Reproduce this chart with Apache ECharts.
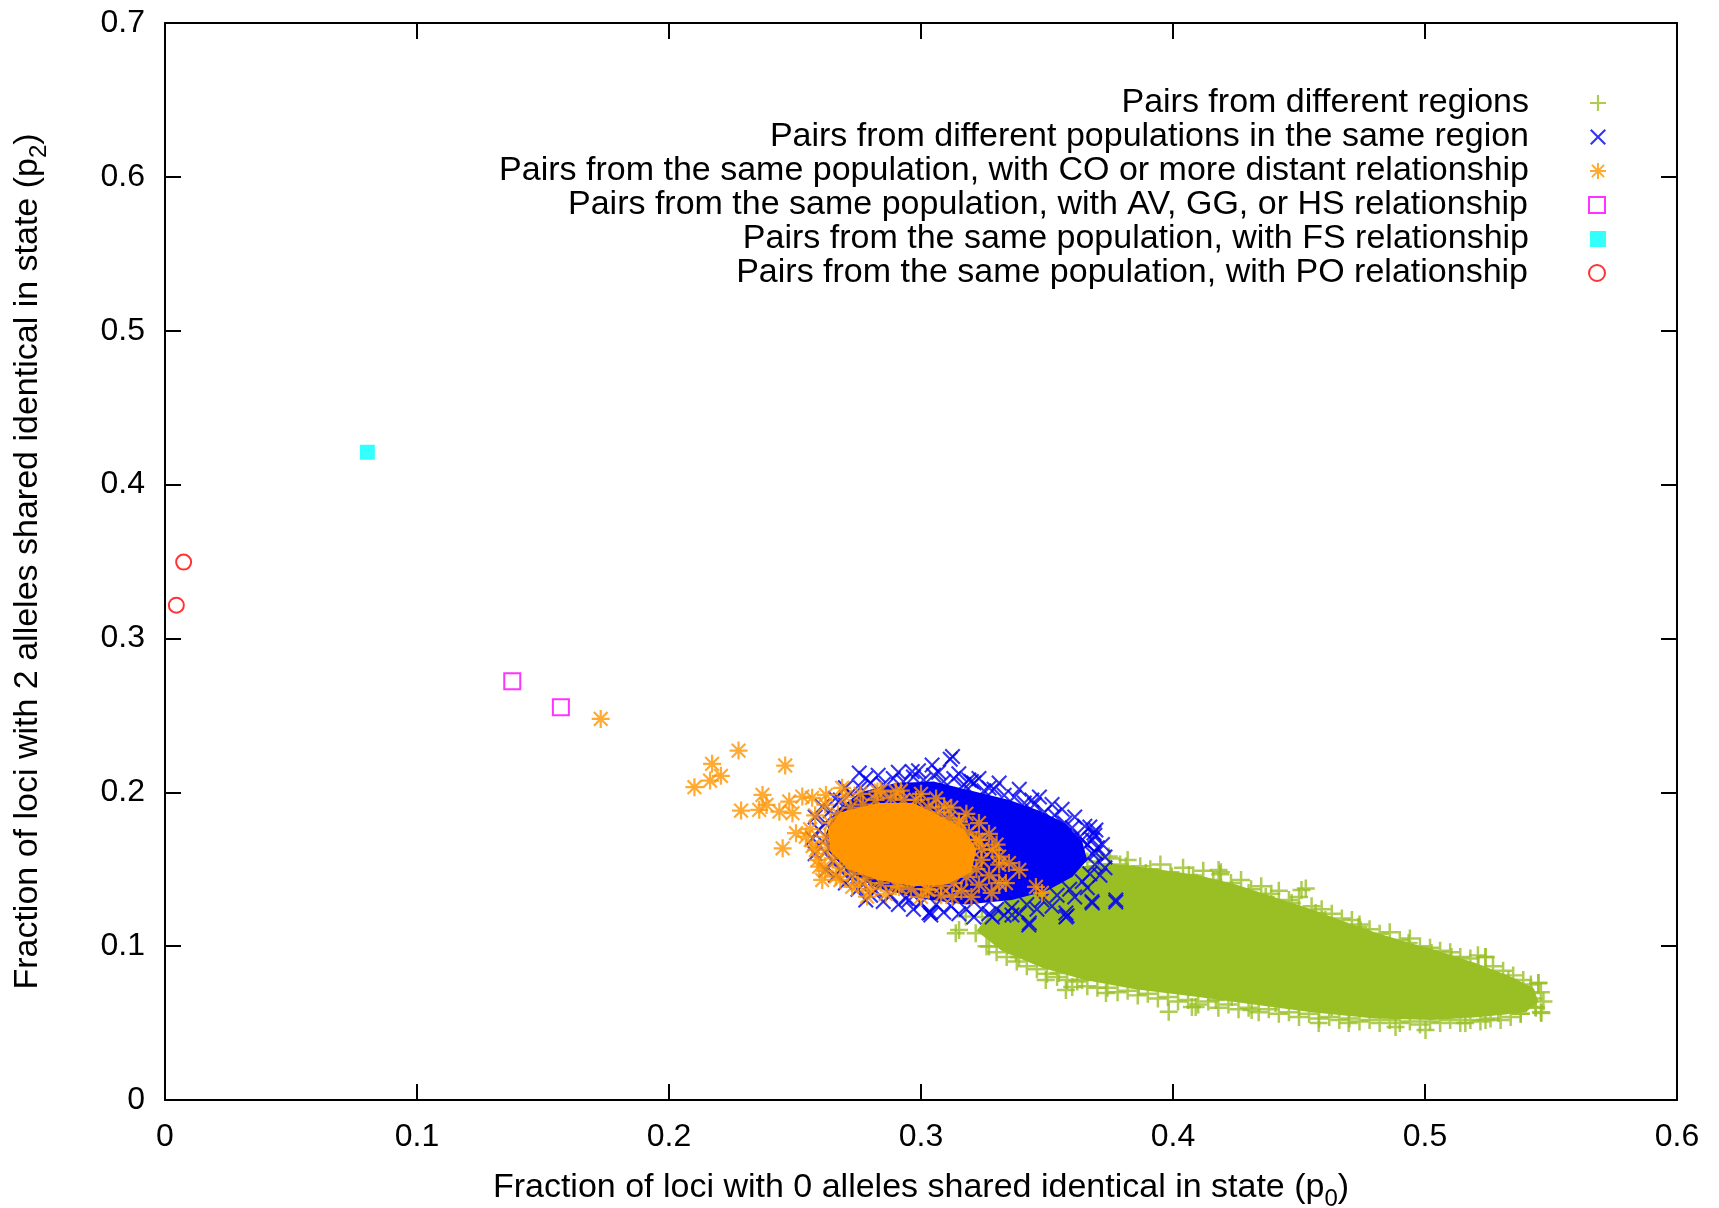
<!DOCTYPE html>
<html>
<head>
<meta charset="utf-8">
<title>IBS sharing of pairs</title>
<script src="https://cdn.jsdelivr.net/npm/echarts@6/dist/echarts.min.js"></script>
<style>
  html, body { margin: 0; padding: 0; background: #fff; }
  #chart { width: 1719px; height: 1208px; }
</style>
</head>
<body>
<div id="chart"></div>
<script>
// values, in axis units [p0, p2]
const xTicks = [0, 0.1, 0.2, 0.3, 0.4, 0.5, 0.6]
const yTicks = [0, 0.1, 0.2, 0.3, 0.4, 0.5, 0.6, 0.7]

const seriesNames = [
  'Pairs from different regions',
  'Pairs from different populations in the same region',
  'Pairs from the same population, with CO or more distant relationship',
  'Pairs from the same population, with AV, GG, or HS relationship',
  'Pairs from the same population, with FS relationship',
  'Pairs from the same population, with PO relationship'
]

// outlines of the areas where the markers overlap into a solid mass
const greenCore = [
  [0.322, 0.110], [0.330, 0.126], [0.345, 0.141], [0.360, 0.151], [0.373, 0.154],
  [0.390, 0.151], [0.410, 0.146], [0.425, 0.140], [0.440, 0.132], [0.455, 0.124],
  [0.468, 0.116], [0.480, 0.109], [0.492, 0.103], [0.505, 0.097], [0.520, 0.089],
  [0.533, 0.081], [0.543, 0.073], [0.545, 0.064], [0.540, 0.057], [0.522, 0.054],
  [0.503, 0.052], [0.480, 0.053], [0.455, 0.057], [0.432, 0.062], [0.410, 0.067],
  [0.385, 0.072], [0.365, 0.078], [0.348, 0.086], [0.332, 0.097]
]
const blueCore = [
  [0.262, 0.172], [0.266, 0.188], [0.276, 0.200], [0.290, 0.206], [0.305, 0.207],
  [0.320, 0.201], [0.335, 0.195], [0.347, 0.188], [0.357, 0.180], [0.364, 0.168],
  [0.366, 0.156], [0.360, 0.145], [0.350, 0.136], [0.336, 0.130], [0.318, 0.127],
  [0.300, 0.131], [0.282, 0.138], [0.270, 0.150], [0.263, 0.162]
]
const orangeCore = [
  [0.263, 0.176], [0.268, 0.187], [0.283, 0.193], [0.297, 0.193], [0.307, 0.185],
  [0.317, 0.176], [0.322, 0.163], [0.320, 0.148], [0.310, 0.140], [0.297, 0.139],
  [0.283, 0.143], [0.271, 0.150], [0.264, 0.162]
]

const regionPairs = [
  // upper edge
  [0.338, 0.136], [0.343, 0.142], [0.347, 0.147], [0.352, 0.150], [0.356, 0.153], [0.361, 0.157],
  [0.366, 0.155], [0.370, 0.159], [0.375, 0.157], [0.379, 0.153], [0.382, 0.156], [0.387, 0.152],
  [0.391, 0.150], [0.395, 0.153], [0.399, 0.148], [0.404, 0.151], [0.408, 0.146], [0.412, 0.149],
  [0.416, 0.143], [0.419, 0.148], [0.423, 0.141], [0.427, 0.143], [0.431, 0.137], [0.435, 0.139],
  [0.439, 0.134], [0.442, 0.136], [0.446, 0.130], [0.450, 0.132], [0.455, 0.126], [0.459, 0.124],
  [0.463, 0.121], [0.467, 0.118], [0.471, 0.117], [0.474, 0.114], [0.478, 0.111], [0.482, 0.108],
  [0.486, 0.109], [0.490, 0.104], [0.494, 0.105], [0.498, 0.100], [0.502, 0.099], [0.506, 0.097],
  [0.510, 0.096], [0.514, 0.093], [0.518, 0.092], [0.521, 0.094], [0.524, 0.093], [0.527, 0.087],
  [0.531, 0.084], [0.535, 0.081], [0.539, 0.078], [0.542, 0.075], [0.545, 0.076], [0.546, 0.070],
  [0.547, 0.064], [0.546, 0.057], [0.544, 0.060], [0.543, 0.066], [0.540, 0.063], [0.538, 0.056],
  // lower edge
  [0.326, 0.100], [0.330, 0.096], [0.334, 0.093], [0.338, 0.090], [0.342, 0.087], [0.346, 0.085],
  [0.350, 0.082], [0.354, 0.080], [0.358, 0.078], [0.362, 0.077], [0.366, 0.074], [0.370, 0.073],
  [0.374, 0.073], [0.378, 0.070], [0.382, 0.071], [0.386, 0.068], [0.390, 0.069], [0.394, 0.066],
  [0.398, 0.067], [0.402, 0.064], [0.406, 0.065], [0.410, 0.062], [0.414, 0.064], [0.418, 0.060],
  [0.422, 0.062], [0.426, 0.059], [0.430, 0.060], [0.434, 0.057], [0.438, 0.059], [0.442, 0.056],
  [0.446, 0.057], [0.450, 0.054], [0.454, 0.056], [0.458, 0.053], [0.462, 0.054], [0.466, 0.052],
  [0.470, 0.053], [0.474, 0.051], [0.478, 0.052], [0.482, 0.050], [0.486, 0.052], [0.490, 0.050],
  [0.494, 0.051], [0.498, 0.049], [0.502, 0.051], [0.506, 0.050], [0.510, 0.052], [0.514, 0.050],
  [0.518, 0.052], [0.522, 0.051], [0.526, 0.053], [0.530, 0.052], [0.534, 0.054], [0.538, 0.056],
  // stragglers
  [0.3138, 0.1084], [0.3217, 0.1084], [0.3178, 0.1192], [0.3242, 0.1190], [0.3151, 0.1105],
  [0.3270, 0.0997], [0.3310, 0.1127], [0.3376, 0.0955], [0.3389, 0.0930], [0.3495, 0.0780],
  [0.3547, 0.0826], [0.3600, 0.0735], [0.3575, 0.0715], [0.3639, 0.0780], [0.3734, 0.0696],
  [0.3864, 0.0735], [0.3983, 0.0574], [0.4075, 0.0605], [0.4090, 0.0605], [0.4170, 0.0650],
  [0.4233, 0.0670], [0.4312, 0.0585], [0.4407, 0.0630], [0.4500, 0.0605], [0.4578, 0.0500],
  [0.4630, 0.0605], [0.4697, 0.0500], [0.4883, 0.0475], [0.5002, 0.0455], [0.5160, 0.0500],
  [0.5240, 0.0520], [0.5291, 0.0566],
  [0.3745, 0.1582], [0.3813, 0.1517], [0.3892, 0.1476], [0.3995, 0.1452], [0.4063, 0.1463],
  [0.4181, 0.1495], [0.4187, 0.1467], [0.4130, 0.1387], [0.4233, 0.1365], [0.4300, 0.1346],
  [0.4368, 0.1320], [0.4510, 0.1365], [0.4527, 0.1375], [0.4471, 0.1280], [0.4566, 0.1216],
  [0.4605, 0.1170], [0.4736, 0.1125], [0.4745, 0.1104], [0.4816, 0.1020], [0.4935, 0.1020],
  [0.5026, 0.0956], [0.5105, 0.0930], [0.5240, 0.0930], [0.5212, 0.0865], [0.5331, 0.0780],
  [0.5450, 0.0760], [0.5422, 0.0696], [0.5462, 0.0566], [0.5438, 0.0605], [0.5398, 0.0630]
]

const populationPairs = [
  // edge of the dense part
  [0.262, 0.180], [0.264, 0.188], [0.268, 0.195], [0.272, 0.199], [0.276, 0.203], [0.280, 0.206],
  [0.285, 0.205], [0.289, 0.209], [0.293, 0.207], [0.297, 0.210], [0.301, 0.208], [0.305, 0.211],
  [0.309, 0.207], [0.313, 0.209], [0.317, 0.205], [0.321, 0.206], [0.325, 0.201], [0.329, 0.202],
  [0.333, 0.198], [0.337, 0.197], [0.341, 0.193], [0.345, 0.192], [0.349, 0.187], [0.353, 0.185],
  [0.357, 0.180], [0.360, 0.177], [0.363, 0.171], [0.366, 0.166], [0.368, 0.160], [0.369, 0.153],
  [0.367, 0.147],
  [0.364, 0.142], [0.359, 0.137], [0.354, 0.133], [0.348, 0.130], [0.342, 0.127], [0.336, 0.125],
  [0.330, 0.124], [0.324, 0.124], [0.318, 0.124], [0.312, 0.126], [0.306, 0.127], [0.300, 0.128],
  [0.294, 0.131], [0.288, 0.133], [0.282, 0.136], [0.277, 0.140], [0.272, 0.144], [0.268, 0.149],
  [0.265, 0.155], [0.262, 0.161], [0.261, 0.168],
  // looser ring around it
  [0.266, 0.196], [0.270, 0.203], [0.278, 0.209], [0.283, 0.211], [0.291, 0.213], [0.299, 0.214],
  [0.307, 0.213], [0.315, 0.212], [0.323, 0.209], [0.331, 0.206], [0.339, 0.202], [0.347, 0.197],
  [0.352, 0.192], [0.356, 0.189], [0.361, 0.184], [0.365, 0.178], [0.369, 0.172], [0.372, 0.166],
  [0.373, 0.158], [0.371, 0.146],
  [0.366, 0.138], [0.361, 0.132], [0.352, 0.126], [0.346, 0.124], [0.339, 0.121], [0.333, 0.120],
  [0.327, 0.121], [0.321, 0.119], [0.315, 0.121], [0.309, 0.122], [0.297, 0.124], [0.291, 0.127],
  [0.285, 0.129], [0.280, 0.133], [0.275, 0.137], [0.270, 0.141], [0.266, 0.146],
  [0.258, 0.160], [0.257, 0.170], [0.258, 0.184],
  // stragglers
  [0.3125, 0.2232], [0.3116, 0.2215], [0.3044, 0.2178], [0.2965, 0.2135], [0.2755, 0.2126],
  [0.3190, 0.2080], [0.3270, 0.2028], [0.3200, 0.2070], [0.2781, 0.1300], [0.3032, 0.1216],
  [0.2953, 0.1300], [0.2608, 0.1907], [0.2596, 0.1755], [0.2623, 0.1495], [0.2727, 0.1452],
  [0.3039, 0.1203], [0.3283, 0.1190], [0.3428, 0.1138], [0.3575, 0.1190], [0.3680, 0.1280],
  [0.3773, 0.1287], [0.3686, 0.1736], [0.3694, 0.1606], [0.3639, 0.1690], [0.3361, 0.1203],
  [0.3694, 0.1755], [0.3680, 0.1690], [0.3575, 0.1216], [0.3430, 0.1150], [0.3773, 0.1300],
  [0.3037, 0.1218], [0.3580, 0.1197], [0.3678, 0.1290], [0.3440, 0.1950], [0.3670, 0.1775],
  [0.3730, 0.1510], [0.3700, 0.1640]
]

const distantPairs = [
  // edge of the dense part
  [0.264, 0.180], [0.267, 0.186], [0.272, 0.190], [0.277, 0.192], [0.282, 0.195], [0.288, 0.196],
  [0.293, 0.195], [0.298, 0.195], [0.303, 0.190], [0.307, 0.187], [0.311, 0.183], [0.315, 0.179],
  [0.319, 0.174], [0.322, 0.169], [0.324, 0.163], [0.324, 0.156], [0.322, 0.150], [0.318, 0.145],
  [0.313, 0.141], [0.308, 0.139], [0.302, 0.137], [0.296, 0.137], [0.290, 0.139], [0.284, 0.141],
  [0.278, 0.144], [0.273, 0.147], [0.268, 0.151], [0.265, 0.157], [0.263, 0.164], [0.262, 0.171],
  // looser ring around it
  [0.258, 0.185], [0.262, 0.192], [0.270, 0.197], [0.276, 0.199], [0.284, 0.201], [0.292, 0.201],
  [0.300, 0.199], [0.306, 0.196], [0.312, 0.190], [0.318, 0.186], [0.323, 0.180], [0.327, 0.173],
  [0.330, 0.166], [0.331, 0.153], [0.327, 0.146], [0.323, 0.140], [0.316, 0.136], [0.308, 0.133],
  [0.300, 0.132], [0.286, 0.134], [0.280, 0.137], [0.275, 0.140], [0.268, 0.143], [0.262, 0.149],
  [0.259, 0.156], [0.257, 0.165], [0.256, 0.176],
  // stragglers
  [0.1729, 0.2477],
  [0.2276, 0.2271], [0.2171, 0.2185], [0.2206, 0.2107], [0.2163, 0.2076], [0.2101, 0.2033],
  [0.2461, 0.2174], [0.2286, 0.1881], [0.2371, 0.1983], [0.2358, 0.1886], [0.2387, 0.1918],
  [0.2451, 0.1636], [0.2438, 0.1874], [0.2477, 0.1940], [0.2504, 0.1734], [0.2490, 0.1864],
  [0.2529, 0.1972], [0.2568, 0.1964], [0.2623, 0.1983], [0.2687, 0.2029], [0.2543, 0.1712],
  [0.2583, 0.1625], [0.2596, 0.1517], [0.2608, 0.1430], [0.2662, 0.1452], [0.2786, 0.1322],
  [0.2827, 0.2005], [0.2900, 0.2005], [0.3092, 0.1907], [0.3151, 0.1810], [0.3230, 0.1690],
  [0.3283, 0.1625], [0.3310, 0.1582], [0.3310, 0.1410], [0.3280, 0.1346], [0.3200, 0.1320],
  [0.3124, 0.1320], [0.3030, 0.1365], [0.2913, 0.1385], [0.2727, 0.1385],
  [0.3349, 0.1540], [0.3390, 0.1495], [0.3337, 0.1410], [0.3456, 0.1385], [0.3480, 0.1346]
]

const relativePairs = [[0.1378, 0.2722], [0.1571, 0.2553]]
const siblingPairs = [[0.0803, 0.4210]]
const parentPairs = [[0.0074, 0.3496], [0.0045, 0.3216]]

const colors = ['#99bf25', '#0000f2', '#ff9500', '#ff00ff', '#00ffff', '#ff0000']

const PLUS = 'path://M6.9,0H9.1V6.9H16V9.1H9.1V16H6.9V9.1H0V6.9H6.9Z'
const CROSS = 'path://M0,1.5L1.5,0L8,6.5L14.5,0L16,1.5L9.5,8L16,14.5L14.5,16L8,9.5L1.5,16L0,14.5L6.5,8Z'
const STAR = 'path://M7,0H9V7H16V9H9V16H7V9H0V7H7Z' +
  'M1.2,2.6L2.6,1.2L8,6.6L13.4,1.2L14.8,2.6L9.4,8L14.8,13.4L13.4,14.8L8,9.4L2.6,14.8L1.2,13.4L6.6,8Z'

const FONT = 'Liberation Sans, Arial, sans-serif'

const chart = echarts.init(document.getElementById('chart'), null, { renderer: 'canvas' })

function coreSeries(name, outline, color, z) {
  return {
    name,
    type: 'custom',
    z,
    silent: true,
    data: outline,
    renderItem: (params, api) => {
      if (params.dataIndex !== 0) return null
      return {
        type: 'polygon',
        shape: { points: outline.map((p) => api.coord(p)) },
        style: { fill: color }
      }
    }
  }
}

function pointSeries(name, data, symbol, size, itemStyle, z) {
  return { name, type: 'scatter', z, data, symbol, symbolSize: size, itemStyle, silent: true }
}

const legendIcons = [
  { icon: PLUS, itemStyle: { color: colors[0] } },
  { icon: CROSS, itemStyle: { color: colors[1] } },
  { icon: STAR, itemStyle: { color: colors[2] } },
  { icon: 'rect', itemStyle: { color: '#fff', borderColor: colors[3], borderWidth: 2 } },
  { icon: 'rect', itemStyle: { color: colors[4] } },
  { icon: 'circle', itemStyle: { color: '#fff', borderColor: colors[5], borderWidth: 2 } }
]
const legendRows = [101, 135, 169, 203, 237, 271]

const axisLine = { onZero: false, lineStyle: { color: '#000', width: 2 } }
const axisTick = { inside: true, length: 16, lineStyle: { color: '#000', width: 2 } }
const labelStyle = { fontSize: 32, color: '#000', fontFamily: FONT }
const nameStyle = { fontSize: 34, color: '#000', fontFamily: FONT, lineHeight: 46 }
const nameRich = {
  sub: { fontSize: 24, fontFamily: FONT, color: '#000', verticalAlign: 'bottom', lineHeight: 46 }
}

chart.setOption({
  animation: false,
  backgroundColor: '#fff',
  grid: { left: 165, right: 42, top: 23, bottom: 108, containLabel: false, outerBoundsMode: 'none' },
  legend: seriesNames.map((name, i) => ({
    right: 113,
    top: legendRows[i] - 15,
    padding: 0,
    orient: 'horizontal',
    align: 'right',
    itemWidth: 16,
    itemHeight: 16,
    selectedMode: false,
    textStyle: { fontSize: 34, color: '#000', fontFamily: FONT, padding: [0, 56, 0, 0] },
    data: [{ name, icon: legendIcons[i].icon, itemStyle: legendIcons[i].itemStyle }]
  })),
  xAxis: [
    {
      type: 'value', min: xTicks[0], max: xTicks[xTicks.length - 1], interval: 0.1,
      position: 'bottom',
      axisLine, axisTick,
      axisLabel: { ...labelStyle, margin: 21 },
      splitLine: { show: false },
      name: 'Fraction of loci with 0 alleles shared identical in state (p{sub|0})',
      nameLocation: 'middle',
      nameGap: 65,
      nameTextStyle: { ...nameStyle, rich: nameRich }
    },
    {
      type: 'value', min: xTicks[0], max: xTicks[xTicks.length - 1], interval: 0.1,
      position: 'top',
      axisLine, axisTick,
      axisLabel: { show: false },
      splitLine: { show: false }
    }
  ],
  yAxis: [
    {
      type: 'value', min: yTicks[0], max: yTicks[yTicks.length - 1], interval: 0.1,
      position: 'left',
      axisLine, axisTick,
      axisLabel: { ...labelStyle, margin: 20 },
      splitLine: { show: false },
      name: 'Fraction of loci with 2 alleles shared identical in state (p{sub|2})',
      nameLocation: 'middle',
      nameGap: 114,
      nameTextStyle: { ...nameStyle, rich: nameRich }
    },
    {
      type: 'value', min: yTicks[0], max: yTicks[yTicks.length - 1], interval: 0.1,
      position: 'right',
      axisLine, axisTick,
      axisLabel: { show: false },
      splitLine: { show: false }
    }
  ],
  series: [
    coreSeries('core-regions', greenCore, colors[0], 2),
    pointSeries(seriesNames[0], regionPairs, PLUS, 18, { color: colors[0] }, 2),
    coreSeries('core-populations', blueCore, colors[1], 3),
    pointSeries(seriesNames[1], populationPairs, CROSS, 16, { color: colors[1] }, 3),
    coreSeries('core-distant', orangeCore, colors[2], 4),
    pointSeries(seriesNames[2], distantPairs, STAR, 18, { color: colors[2] }, 4),
    pointSeries(seriesNames[3], relativePairs, 'rect', 16,
      { color: '#fff', borderColor: colors[3], borderWidth: 2 }, 5),
    pointSeries(seriesNames[4], siblingPairs, 'rect', 15, { color: colors[4] }, 5),
    pointSeries(seriesNames[5], parentPairs, 'circle', 15,
      { color: '#fff', borderColor: colors[5], borderWidth: 2 }, 5)
  ]
})
</script>
</body>
</html>
